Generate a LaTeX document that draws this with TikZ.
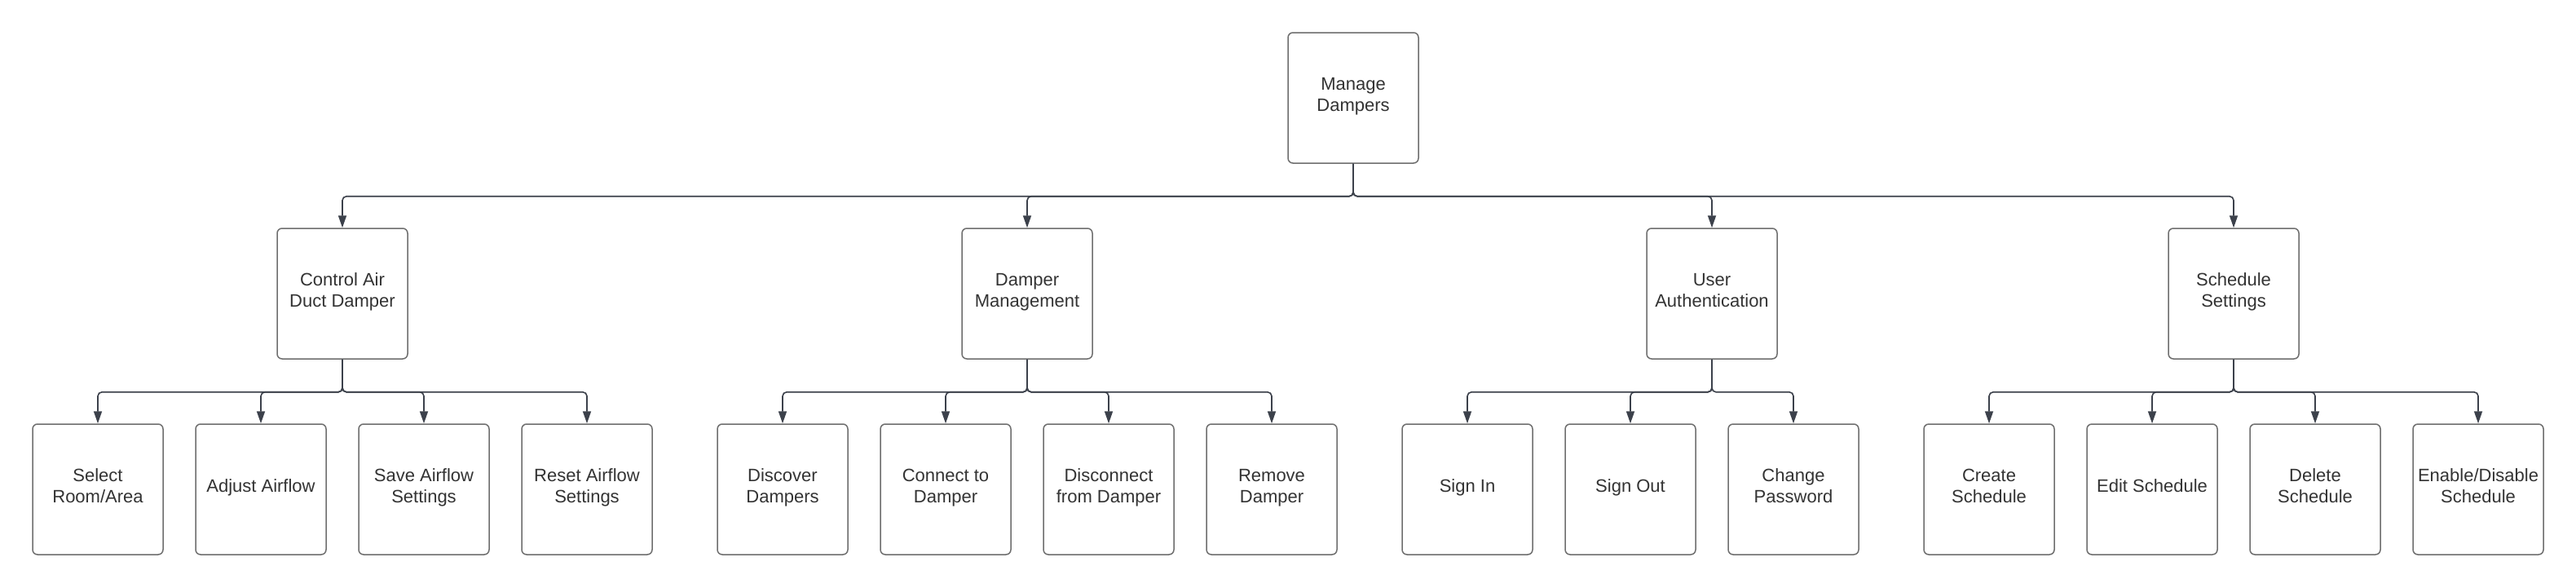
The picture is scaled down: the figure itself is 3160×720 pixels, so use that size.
\documentclass[tikz,border=0pt]{standalone}
\usepackage{fontspec}
\setmainfont{Liberation Sans}
\usetikzlibrary{arrows.meta}
\definecolor{boxline}{HTML}{6E6E6E}
\definecolor{connclr}{HTML}{3C414B}
\definecolor{txtclr}{HTML}{333333}
\begin{document}
\begin{tikzpicture}[x=1pt,y=-1pt,
 box/.style={draw=boxline,line width=1.5pt,rounded corners=6pt,minimum width=160pt,minimum height=160pt,inner sep=0pt,align=center,text=txtclr,font=\fontsize{22}{26.5}\selectfont,fill=white,text height=15pt,text depth=8.4pt},
 twoline/.style={box,text height=41.5pt},
 link/.style={draw=connclr,line width=1.6pt,rounded corners=5pt,-{Triangle[length=15pt,width=10pt]}}
]
\useasboundingbox[fill=white] (0,0) rectangle (3160,720);
% root
\node[twoline] (root) at (1660,120) {Manage\\Dampers};
% level 2
\node[twoline] (ctrl) at (420,360) {Control Air\\Duct Damper};
\node[twoline] (dmgmt) at (1260,360) {Damper\\Management};
\node[twoline] (auth) at (2100,360) {User\\Authentication};
\node[twoline] (sched) at (2740,360) {Schedule\\Settings};
% level 3
\node[twoline] (sel) at (120,600) {Select\\Room/Area};
\node[box] (adj) at (320,600) {Adjust Airflow};
\node[twoline] (save) at (520,600) {Save Airflow\\Settings};
\node[twoline] (reset) at (720,600) {Reset Airflow\\Settings};
\node[twoline] (disc) at (960,600) {Discover\\Dampers};
\node[twoline] (conn) at (1160,600) {Connect to\\Damper};
\node[twoline] (disconn) at (1360,600) {Disconnect\\from Damper};
\node[twoline] (rem) at (1560,600) {Remove\\Damper};
\node[box] (signin) at (1800,600) {Sign In};
\node[box] (signout) at (2000,600) {Sign Out};
\node[twoline] (chpw) at (2200,600) {Change\\Password};
\node[twoline] (create) at (2440,600) {Create\\Schedule};
\node[box] (edit) at (2640,600) {Edit Schedule};
\node[twoline] (del) at (2840,600) {Delete\\Schedule};
\node[twoline] (endis) at (3040,600) {Enable/Disable\\Schedule};
% connectors
\foreach \c in {ctrl,dmgmt,auth,sched}
  \draw[link] (root.south) -- ++(0,40) -| (\c.north);
\foreach \c in {sel,adj,save,reset}
  \draw[link] (ctrl.south) -- ++(0,40) -| (\c.north);
\foreach \c in {disc,conn,disconn,rem}
  \draw[link] (dmgmt.south) -- ++(0,40) -| (\c.north);
\foreach \c in {signin,signout,chpw}
  \draw[link] (auth.south) -- ++(0,40) -| (\c.north);
\foreach \c in {create,edit,del,endis}
  \draw[link] (sched.south) -- ++(0,40) -| (\c.north);
\end{tikzpicture}
\end{document}
